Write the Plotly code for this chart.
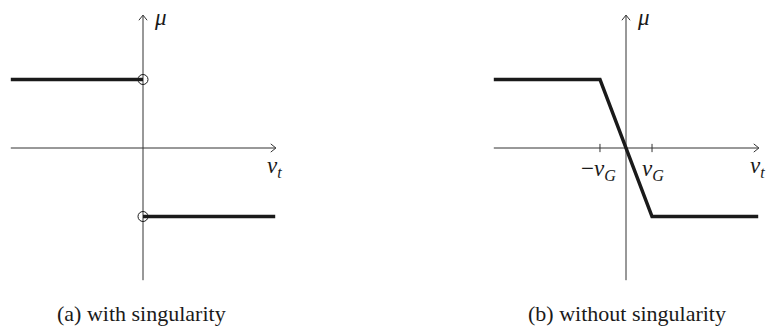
import plotly.graph_objects as go

# --- values -------------------------------------------------------------
vt_max = 1.93            # horizontal extent of the friction curves
mu_level = 1.0           # friction coefficient magnitude
v_G = 0.38               # half-width of the regularised region

# (a) sign function with a jump at v_t = 0
a_upper_x = [-vt_max, 0.0]
a_upper_y = [mu_level, mu_level]
a_lower_x = [0.0, vt_max]
a_lower_y = [-mu_level, -mu_level]
a_open_x = [0.0, 0.0]
a_open_y = [mu_level, -mu_level]

# (b) saturated linear law
b_x = [-vt_max, -v_G, v_G, vt_max]
b_y = [mu_level, mu_level, -mu_level, -mu_level]

captions = ["(a) with singularity", "(b) without singularity"]

# --- layout geometry ----------------------------------------------------
W, H = 769, 329
scale = 68.5                      # pixels per data unit
origin_y_px = 148
panels = [  # (pixel domain left, right, origin x pixel)
    (5, 290, 143),
    (488, 769, 626),
]
axis_color = "#333333"
curve_color = "#1a1a1a"
SERIF = "'Liberation Serif', 'Times New Roman', 'DejaVu Serif', serif"
math_font = dict(family=SERIF, size=23, color="#1a1a1a")

fig = go.Figure()
layout_axes = {}
annotations = []


def label(text, x, y, xref, yref, font=math_font):
    return dict(x=x, y=y, xref=xref, yref=yref, showarrow=False, text=text,
                xanchor="center", yanchor="middle", font=font)


for i, (l_px, r_px, ox_px) in enumerate(panels):
    xa = "x" if i == 0 else "x2"
    ya = "y" if i == 0 else "y2"
    xkey = "xaxis" if i == 0 else "xaxis2"
    ykey = "yaxis" if i == 0 else "yaxis2"
    layout_axes[xkey] = dict(
        domain=[l_px / W, r_px / W],
        range=[-(ox_px - l_px) / scale, (r_px - ox_px) / scale],
        visible=False, fixedrange=True,
    )
    layout_axes[ykey] = dict(
        domain=[0, 1],
        range=[-(H - origin_y_px) / scale, origin_y_px / scale],
        visible=False, fixedrange=True,
    )

    line = dict(color=axis_color, width=1)
    # horizontal axis with open arrow tip
    x_end, y_end = 1.94, 1.94
    hx, hy = 0.075, 0.06
    fig.add_trace(go.Scatter(x=[-vt_max, x_end], y=[0, 0], mode="lines",
                             line=line, xaxis=xa, yaxis=ya, hoverinfo="skip"))
    fig.add_trace(go.Scatter(x=[x_end - hx, x_end, x_end - hx], y=[hy, 0, -hy],
                             mode="lines", line=line, xaxis=xa, yaxis=ya,
                             hoverinfo="skip"))
    # vertical axis with open arrow tip
    fig.add_trace(go.Scatter(x=[0, 0], y=[-1.93, y_end], mode="lines",
                             line=line, xaxis=xa, yaxis=ya, hoverinfo="skip"))
    fig.add_trace(go.Scatter(x=[-hy, 0, hy], y=[y_end - hx, y_end, y_end - hx],
                             mode="lines", line=line, xaxis=xa, yaxis=ya,
                             hoverinfo="skip"))

    annotations.append(label("<i>μ</i>", 0.25, 1.90, xa, ya))
    annotations.append(label("<i>v</i><sub><i>t</i></sub>", 1.92, -0.27, xa, ya))

thick = dict(color=curve_color, width=3.5)

# panel (a)
fig.add_trace(go.Scatter(x=a_upper_x, y=a_upper_y, mode="lines", line=thick,
                         xaxis="x", yaxis="y", hoverinfo="skip"))
fig.add_trace(go.Scatter(x=a_lower_x, y=a_lower_y, mode="lines", line=thick,
                         xaxis="x", yaxis="y", hoverinfo="skip"))
fig.add_trace(go.Scatter(x=a_open_x, y=a_open_y, mode="markers",
                         marker=dict(symbol="circle-open", size=10,
                                     color=curve_color, line=dict(width=1)),
                         xaxis="x", yaxis="y", hoverinfo="skip"))

# panel (b): tick marks at ±v_G, then the curve
for xv in (-v_G, v_G):
    fig.add_trace(go.Scatter(x=[xv, xv], y=[-0.06, 0.06], mode="lines",
                             line=dict(color=axis_color, width=1),
                             xaxis="x2", yaxis="y2", hoverinfo="skip"))
fig.add_trace(go.Scatter(x=b_x, y=b_y, mode="lines", line=thick,
                         xaxis="x2", yaxis="y2", hoverinfo="skip"))

annotations.append(label("−<i>v</i><sub><i>G</i></sub>", -v_G - 0.02, -0.32,
                         "x2", "y2"))
annotations.append(label("<i>v</i><sub><i>G</i></sub>", v_G + 0.02, -0.32,
                         "x2", "y2"))

# captions
for cap, cx in zip(captions, (141 / W, 627 / W)):
    annotations.append(label(cap, cx, 1 - 313 / H, "paper", "paper",
                             font=dict(family=SERIF, size=22, color="#1a1a1a")))

fig.update_layout(
    width=W, height=H,
    margin=dict(l=0, r=0, t=0, b=0),
    paper_bgcolor="white", plot_bgcolor="white",
    showlegend=False,
    annotations=annotations,
    **layout_axes,
)

fig.write_html("out.html")
